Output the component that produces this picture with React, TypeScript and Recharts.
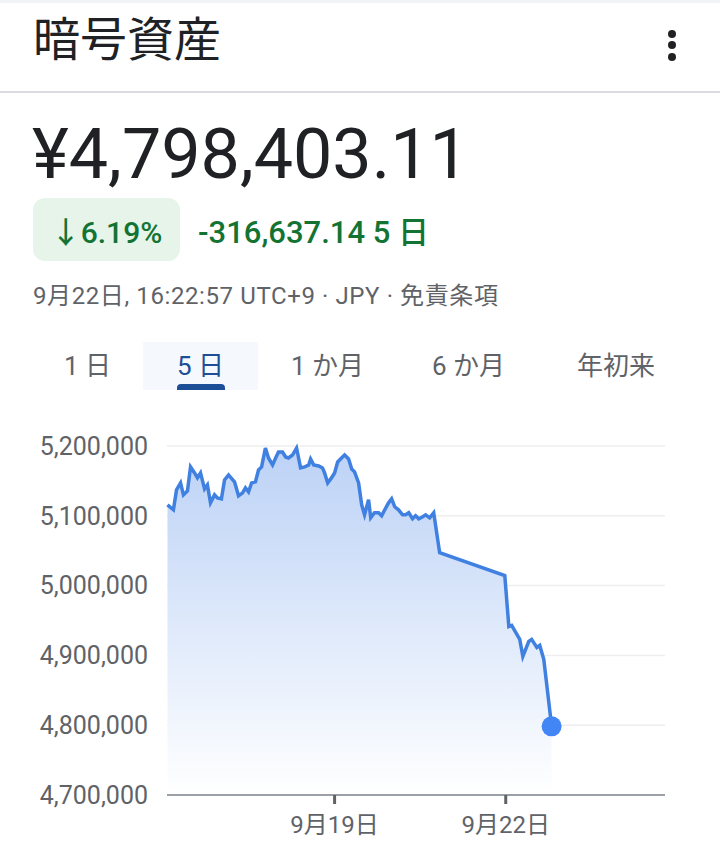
import { AreaChart, Area, XAxis, YAxis, CartesianGrid, ReferenceDot } from 'recharts';

// hours since 9月16日 0:00
const hours = [
  1.7, 4.2, 5.5, 7.2, 8.4, 10.1, 11.4, 13.1, 14.3, 15.6,
  17.3, 18.5, 19.8, 21.5, 22.7, 24.4, 25.7, 27.4, 29.9, 31.6,
  33.3, 34.5, 35.8, 37.1, 38.7, 40.0, 41.3, 42.9, 44.2, 45.9,
  47.2, 48.4, 50.1, 51.4, 52.6, 54.3, 56.0, 57.7, 59.4, 61.1,
  61.9, 63.2, 65.3, 66.9, 67.8, 69.1, 70.7, 72.0, 73.3, 74.5,
  76.2, 77.9, 79.2, 80.4, 82.1, 83.4, 84.6, 86.3, 87.2, 88.8,
  90.5, 91.8, 93.1, 94.7, 96.0, 97.3, 98.9, 100.6, 101.9, 103.2,
  104.8, 106.1, 107.4, 109.1, 110.3, 112.0, 113.7, 116.2, 143.6, 145.3,
  146.5, 149.9, 151.2, 153.7, 154.9, 157.1, 158.3, 160.0, 163.3,
];

const values = [
  5115700, 5108600, 5137100, 5147100, 5130000, 5135700, 5170000, 5161400, 5154300, 5161400,
  5138600, 5144300, 5118600, 5130000, 5125700, 5124300, 5151400, 5158600, 5148600, 5128600,
  5132900, 5140000, 5134300, 5147100, 5148600, 5165700, 5170000, 5197100, 5182900, 5172900,
  5182900, 5191400, 5191400, 5184300, 5182900, 5187100, 5197100, 5168600, 5170000, 5172900,
  5181400, 5172900, 5171400, 5168600, 5161400, 5147100, 5154300, 5161400, 5177100, 5181400,
  5187100, 5181400, 5167100, 5162900, 5147100, 5115700, 5101400, 5122900, 5097100, 5104300,
  5104300, 5100000, 5108600, 5118600, 5124300, 5112900, 5108600, 5101400, 5101400, 5104300,
  5095700, 5100000, 5095700, 5098600, 5101400, 5097100, 5104300, 5047100, 5014300, 4941400,
  4942900, 4922900, 4898600, 4920000, 4922900, 4911400, 4914300, 4894300, 4798403.11,
];

const yTicks = [4700000, 4800000, 4900000, 5000000, 5100000, 5200000];
const xTicks = [72, 144];
const xTickLabels = ['9月19日', '9月22日'];
const tabs = ['1 日', '5 日', '1 か月', '6 か月', '年初来'];

const data = hours.map((h, i) => ({ t: h, v: values[i] }));
const last = data[data.length - 1];

const FONT = "Roboto, 'Noto Sans CJK JP', sans-serif";
const GRAY = '#5f6368';
const GREEN = '#137333';

const tabLefts = [64, 177, 291, 432, 577];

export default function App() {
  return (
    <div
      style={{
        position: 'absolute',
        left: 0,
        top: 0,
        width: 720,
        height: 849,
        background: '#fff',
        overflow: 'hidden',
        fontFamily: FONT,
        color: '#202124',
      }}
    >
      <div style={{ position: 'absolute', left: 0, top: 0, width: 720, height: 3, background: '#f1f3f4' }} />
      <div style={{ position: 'absolute', left: 33, top: 16, fontSize: 47, lineHeight: '47px' }}>暗号資産</div>
      {[34, 45, 57].map((y) => (
        <div
          key={y}
          style={{
            position: 'absolute',
            left: 668,
            top: y - 4,
            width: 8,
            height: 8,
            borderRadius: 4,
            background: '#202124',
          }}
        />
      ))}
      <div style={{ position: 'absolute', left: 0, top: 91, width: 720, height: 2, background: '#dadce0' }} />

      <div style={{ position: 'absolute', left: 32, top: 119, fontSize: 70, lineHeight: '70px' }}>¥4,798,403.11</div>

      <div
        style={{
          position: 'absolute',
          left: 33,
          top: 198,
          width: 147,
          height: 63,
          borderRadius: 12,
          background: '#e6f4ea',
          display: 'flex',
          alignItems: 'center',
          justifyContent: 'center',
          color: GREEN,
          fontSize: 30,
          fontWeight: 500,
        }}
      >
        ↓6.19%
      </div>
      <div
        style={{
          position: 'absolute',
          left: 198,
          top: 198,
          height: 63,
          display: 'flex',
          alignItems: 'center',
          color: GREEN,
          fontSize: 31,
          fontWeight: 500,
          whiteSpace: 'pre',
        }}
      >
        -316,637.14 5 日
      </div>

      <div
        style={{
          position: 'absolute',
          left: 33,
          top: 278,
          height: 30,
          display: 'flex',
          alignItems: 'center',
          color: GRAY,
          fontSize: 24,
          letterSpacing: 0.6,
          whiteSpace: 'pre',
        }}
      >
        9月22日, 16:22:57 UTC+9 · JPY · 免責条項
      </div>

      <div style={{ position: 'absolute', left: 143, top: 342, width: 115, height: 48, background: '#f5f8fd' }} />
      <div style={{ position: 'absolute', left: 177, top: 384, width: 48, height: 6, borderRadius: '4px 4px 0 0', background: '#1d4f96' }} />
      {tabs.map((t, i) => (
        <div
          key={t}
          style={{
            position: 'absolute',
            left: tabLefts[i],
            top: 346,
            height: 34,
            display: 'flex',
            alignItems: 'center',
            fontSize: 26,
            color: i === 1 ? '#1d4f96' : GRAY,
            whiteSpace: 'pre',
          }}
        >
          {t}
        </div>
      ))}

      <div style={{ position: 'absolute', left: 0, top: 420 }}>
        <AreaChart width={720} height={429} data={data} margin={{ top: 26, right: 55, left: 0, bottom: 0 }}>
          <defs>
            <linearGradient id="fillGrad" x1="0" y1="0" x2="0" y2="1">
              <stop offset="0%" stopColor="#bcd2f6" />
              <stop offset="100%" stopColor="#ffffff" />
            </linearGradient>
          </defs>
          <CartesianGrid vertical={false} stroke="#eeeeee" strokeWidth={1.5} />
          <XAxis
            dataKey="t"
            type="number"
            domain={[1.5, 211]}
            ticks={xTicks}
            tickFormatter={(v: number) => xTickLabels[xTicks.indexOf(v)]}
            axisLine={{ stroke: '#9aa0a6', strokeWidth: 2 }}
            tickLine={{ stroke: GRAY, strokeWidth: 3 }}
            tickSize={9}
            tickMargin={12}
            height={54}
            fontSize={24}
            tick={{ fill: GRAY, fontSize: 24, fontFamily: FONT }}
          />
          <YAxis
            type="number"
            domain={[4700000, 5200000]}
            ticks={yTicks}
            width={167}
            axisLine={false}
            tickLine={false}
            tickSize={0}
            tickMargin={19}
            fontSize={25}
            tickFormatter={(v: number) => v.toLocaleString('en-US')}
            tick={{ fill: GRAY, fontSize: 25, fontFamily: FONT }}
          />
          <Area
            type="linear"
            dataKey="v"
            stroke="#3f80e0"
            strokeWidth={3.5}
            fill="url(#fillGrad)"
            fillOpacity={1}
            dot={false}
            activeDot={false}
            isAnimationActive={false}
          />
          <ReferenceDot x={last.t} y={last.v} r={10} fill="#4285f4" stroke="none" />
        </AreaChart>
      </div>
    </div>
  );
}
